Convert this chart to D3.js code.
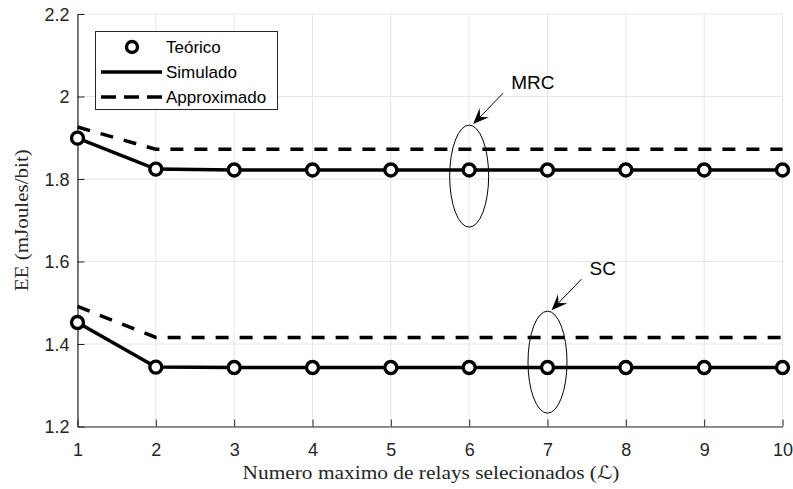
<!DOCTYPE html>
<html>
<head>
<meta charset="utf-8">
<script src="https://cdn.jsdelivr.net/npm/d3@7"></script>
<style>
  html, body { margin: 0; padding: 0; background: #fff; }
  svg { display: block; }
  .tick-label { font-family: "Liberation Sans", Arial, Helvetica, sans-serif; font-size: 18px; fill: #262626; }
  .axis-title { font-family: "Liberation Serif", "DejaVu Serif", serif; font-size: 18.5px; fill: #262626; }
  .legend-text { font-family: "Liberation Sans", Arial, Helvetica, sans-serif; font-size: 17px; fill: #000; }
  .note-text { font-family: "Liberation Sans", Arial, Helvetica, sans-serif; font-size: 19px; fill: #000; }
</style>
</head>
<body>
<svg id="chart" width="793" height="489"></svg>
<script>
// Maximum number of selected relays
const relays = [1, 2, 3, 4, 5, 6, 7, 8, 9, 10];
const xTicks = [1, 2, 3, 4, 5, 6, 7, 8, 9, 10];
const yTicks = [1.2, 1.4, 1.6, 1.8, 2.0, 2.2];
const yTickLabels = ["1.2", "1.4", "1.6", "1.8", "2", "2.2"];

// Energy efficiency (mJoules/bit) - MRC combining
const mrcTeorico   = [1.899, 1.824, 1.822, 1.822, 1.822, 1.822, 1.822, 1.822, 1.822, 1.822];
const mrcSimulado  = [1.899, 1.824, 1.822, 1.822, 1.822, 1.822, 1.822, 1.822, 1.822, 1.822];
const mrcApprox    = [1.926, 1.872, 1.872, 1.872, 1.872, 1.872, 1.872, 1.872, 1.872, 1.872];

// Energy efficiency (mJoules/bit) - SC combining
const scTeorico    = [1.452, 1.344, 1.343, 1.343, 1.343, 1.343, 1.343, 1.343, 1.343, 1.343];
const scSimulado   = [1.452, 1.344, 1.343, 1.343, 1.343, 1.343, 1.343, 1.343, 1.343, 1.343];
const scApprox     = [1.491, 1.416, 1.416, 1.416, 1.416, 1.416, 1.416, 1.416, 1.416, 1.416];

const legendLabels = ["Teórico", "Simulado", "Approximado"];
const noteLabels = ["MRC", "SC"];
const noteRelay = [6, 7];          // relay count each callout circles
const noteCenter = [1.807, 1.356]; // EE at the centre of each callout ellipse

const svg = d3.select("#chart");
const plotLeft = 77.5, plotRight = 782.5, plotTop = 14, plotBottom = 426.5;

const x = d3.scaleLinear().domain([1, 10]).range([plotLeft, plotRight]);
const y = d3.scaleLinear().domain([1.2, 2.2]).range([plotBottom, plotTop]);

// grid
const grid = svg.append("g").attr("stroke", "#e6e6e6").attr("stroke-width", 1);
xTicks.forEach(t => grid.append("line")
  .attr("x1", x(t)).attr("x2", x(t)).attr("y1", plotTop).attr("y2", plotBottom));
yTicks.forEach(t => grid.append("line")
  .attr("x1", plotLeft).attr("x2", plotRight).attr("y1", y(t)).attr("y2", y(t)));

// axes
const xAxis = d3.axisBottom(x).tickValues(xTicks).tickSizeInner(-7).tickSizeOuter(0).tickFormat(d3.format("d"));
const gx = svg.append("g").attr("transform", `translate(0,${plotBottom})`).call(xAxis);
gx.select(".domain").attr("stroke", "#262626").attr("stroke-width", 1.2);
gx.selectAll(".tick line").attr("stroke", "#262626");
gx.selectAll(".tick text").attr("class", "tick-label").attr("dy", null).attr("y", 29);
gx.attr("font-family", null).attr("font-size", null);

const yAxis = d3.axisLeft(y).tickValues(yTicks).tickSizeInner(-7).tickSizeOuter(0)
  .tickFormat((d, i) => yTickLabels[i]);
const gy = svg.append("g").attr("transform", `translate(${plotLeft},0)`).call(yAxis);
gy.select(".domain").attr("stroke", "#262626").attr("stroke-width", 1.2);
gy.selectAll(".tick line").attr("stroke", "#262626");
gy.selectAll(".tick text").attr("class", "tick-label").attr("dy", "0.35em").attr("x", -8);
gy.attr("font-family", null).attr("font-size", null);

// axis titles
const xt = svg.append("text").attr("class", "axis-title")
  .attr("x", 431).attr("y", 479).attr("text-anchor", "middle")
  .attr("textLength", 377).attr("lengthAdjust", "spacingAndGlyphs");
xt.append("tspan").text("Numero maximo de relays selecionados (");
xt.append("tspan").attr("font-family", "DejaVu Serif, DejaVu Sans, serif").attr("font-style", "italic").text("ℒ");
xt.append("tspan").text(")");

svg.append("text").attr("class", "axis-title")
  .attr("transform", `translate(27.5,${(plotTop + plotBottom) / 2}) rotate(-90)`)
  .attr("text-anchor", "middle")
  .attr("textLength", 142).attr("lengthAdjust", "spacingAndGlyphs")
  .text("EE (mJoules/bit)");

// series
const line = d3.line().x((d, i) => x(relays[i])).y(d => y(d));
const drawLine = (data, dashed) => svg.append("path")
  .attr("d", line(data)).attr("fill", "none").attr("stroke", "#000")
  .attr("stroke-width", 3.5).attr("stroke-dasharray", dashed ? "13,11" : null);

drawLine(mrcApprox, true);
drawLine(scApprox, true);
drawLine(mrcSimulado, false);
drawLine(scSimulado, false);

const drawMarkers = data => svg.append("g").selectAll("circle").data(data).join("circle")
  .attr("cx", (d, i) => x(relays[i])).attr("cy", d => y(d)).attr("r", 6)
  .attr("fill", "#fff").attr("stroke", "#000").attr("stroke-width", 3.4);
drawMarkers(mrcTeorico);
drawMarkers(scTeorico);

// callouts: ellipse + arrow + label
noteLabels.forEach((label, k) => {
  const cx = x(noteRelay[k]), cy = y(noteCenter[k]);
  const rx = 19.5, ry = 51;
  svg.append("ellipse").attr("cx", cx).attr("cy", cy).attr("rx", rx).attr("ry", ry)
    .attr("fill", "none").attr("stroke", "#000").attr("stroke-width", 1);
  const tip = [cx + 4, cy - ry - 1];
  const tail = [tip[0] + 30, tip[1] - 31];
  const ang = Math.atan2(tip[1] - tail[1], tip[0] - tail[0]);
  svg.append("line").attr("x1", tail[0]).attr("y1", tail[1])
    .attr("x2", tip[0] - 8 * Math.cos(ang)).attr("y2", tip[1] - 8 * Math.sin(ang))
    .attr("stroke", "#000").attr("stroke-width", 1);
  const L = 16, W = 6.5, ind = 10;
  svg.append("path")
    .attr("d", `M0,0 L${-L},${-W} L${-ind},0 L${-L},${W} Z`)
    .attr("transform", `translate(${tip[0]},${tip[1]}) rotate(${ang * 180 / Math.PI})`)
    .attr("fill", "#000");
  svg.append("text").attr("class", "note-text")
    .attr("x", tail[0] + 8).attr("y", tail[1] - 4)
    .text(label);
});

// legend
const lg = svg.append("g");
lg.append("rect").attr("x", 95.5).attr("y", 31.5).attr("width", 182).attr("height", 78)
  .attr("fill", "#fff").attr("stroke", "#262626").attr("stroke-width", 1);
const rowY = [47, 72, 97];
legendLabels.forEach((label, i) => {
  if (i === 0) {
    lg.append("circle").attr("cx", 132).attr("cy", rowY[i]).attr("r", 5.5)
      .attr("fill", "#fff").attr("stroke", "#000").attr("stroke-width", 3.4);
  } else {
    lg.append("line").attr("x1", 101).attr("x2", 162).attr("y1", rowY[i]).attr("y2", rowY[i])
      .attr("stroke", "#000").attr("stroke-width", 3.5)
      .attr("stroke-dasharray", i === 2 ? "15,8" : null);
  }
  lg.append("text").attr("class", "legend-text").attr("x", 166).attr("y", rowY[i] + 6).text(label);
});
</script>
</body>
</html>
